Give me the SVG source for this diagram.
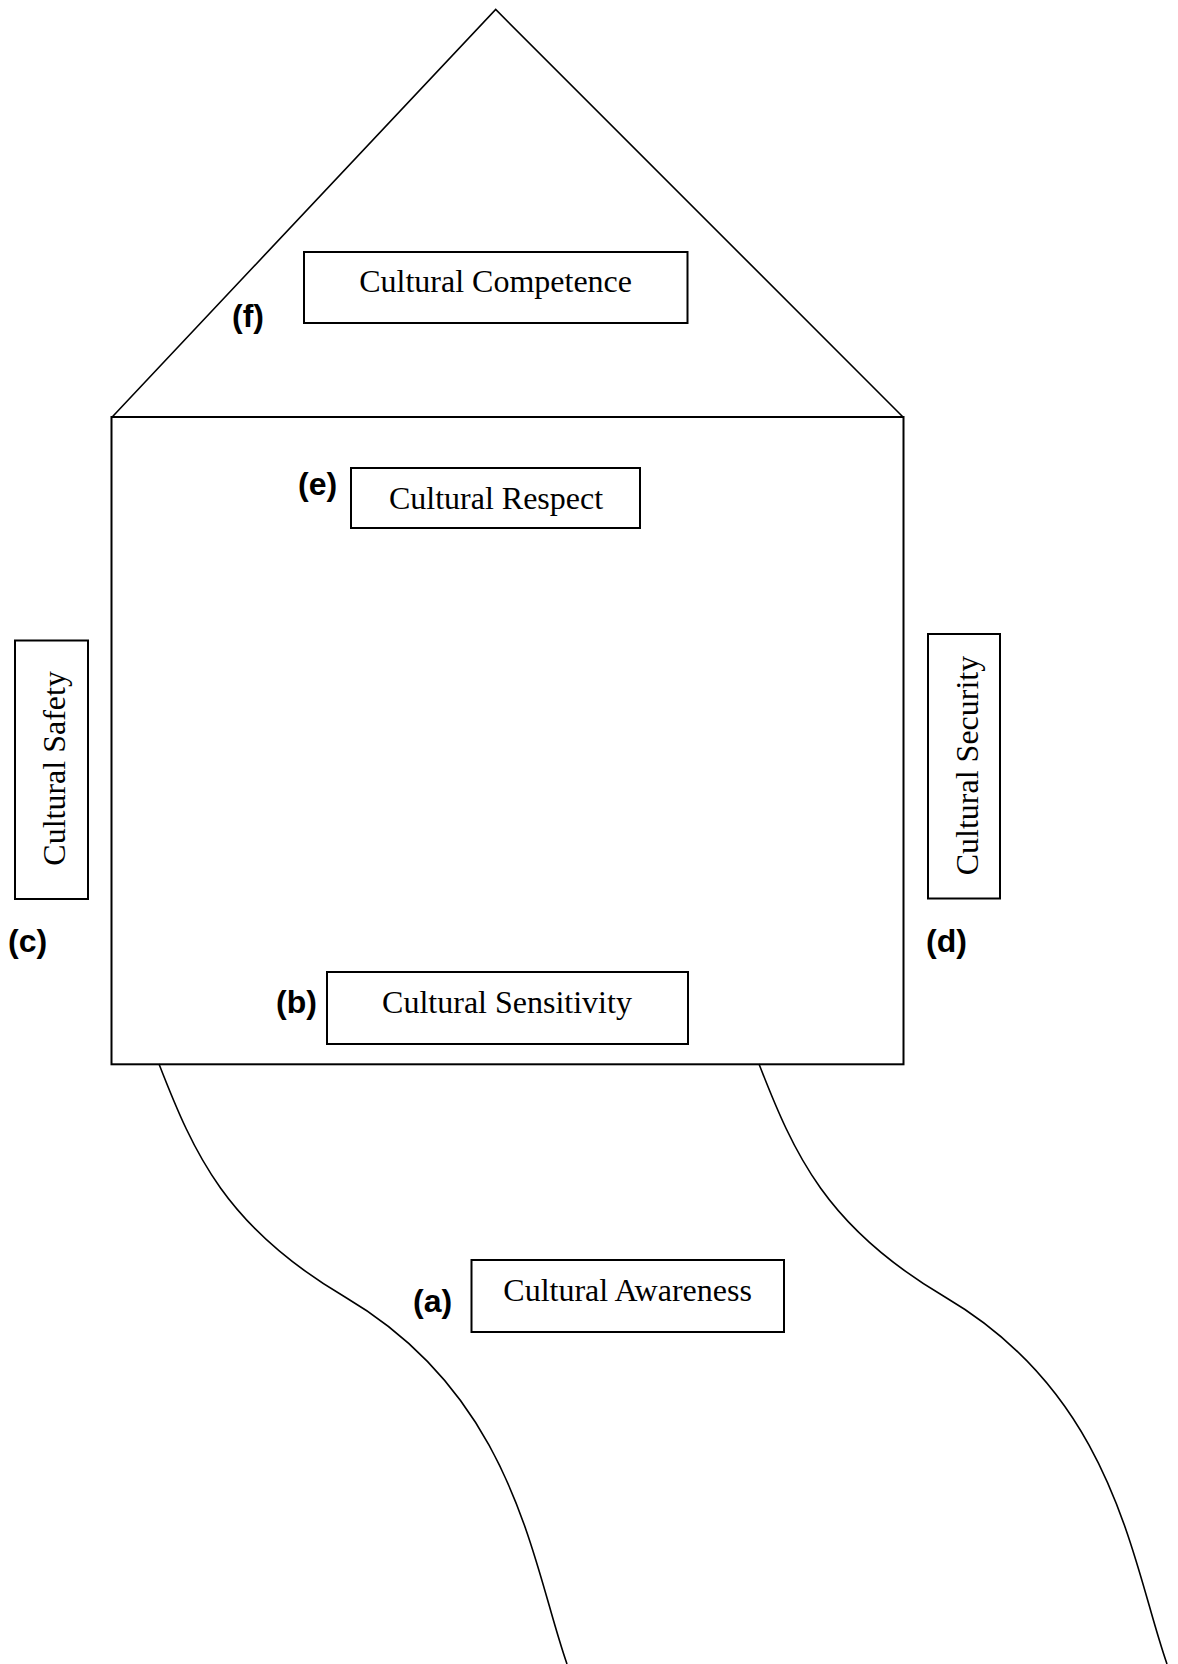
<svg xmlns="http://www.w3.org/2000/svg" width="1178" height="1664" viewBox="0 0 1178 1664">
<style>
.box{fill:#fff;stroke:#000;stroke-width:2}
.line{fill:none;stroke:#000;stroke-width:1.6}
.t{font-family:"Liberation Serif","Times New Roman",serif;font-size:32px;fill:#000;text-anchor:middle}
.lab{font-family:"Liberation Sans",Arial,sans-serif;font-size:32px;font-weight:bold;fill:#000}
</style>
<rect width="1178" height="1664" fill="#fff"/>
<g id="house">
<polyline class="line" points="111.7,417.5 495.7,9.5 903.5,417.5"/>
<rect class="box" x="111.5" y="417" width="792" height="647.3" fill="none"/>
</g>
<g id="path-lines">
<path class="line" d="M159,1064 C194,1154 226,1227 345,1297 C515,1397 532,1564 567,1664"/>
<path class="line" d="M759,1064 C794,1154 826,1227 945,1297 C1115,1397 1132,1564 1167,1664"/>
</g>
<g id="node-f">
<rect class="box" x="304" y="252" width="383.5" height="71"/>
<text class="t" x="495.6" y="292">Cultural Competence</text>
<text class="lab" x="232" y="327">(f)</text>
</g>
<g id="node-e">
<rect class="box" x="351" y="468" width="289" height="60"/>
<text class="t" x="496" y="508.5">Cultural Respect</text>
<text class="lab" x="298" y="495">(e)</text>
</g>
<g id="node-c">
<rect class="box" x="15" y="640.5" width="73" height="258.5"/>
<text class="t" transform="translate(65,768.4) rotate(-90)">Cultural Safety</text>
<text class="lab" x="8" y="951.5">(c)</text>
</g>
<g id="node-d">
<rect class="box" x="928" y="634" width="72" height="264.5"/>
<text class="t" transform="translate(978,765.5) rotate(-90)">Cultural Security</text>
<text class="lab" x="926" y="951.5">(d)</text>
</g>
<g id="node-b">
<rect class="box" x="327" y="972" width="361" height="72"/>
<text class="t" x="507" y="1012.7">Cultural Sensitivity</text>
<text class="lab" x="276" y="1012.5">(b)</text>
</g>
<g id="node-a">
<rect class="box" x="471.5" y="1260" width="312.5" height="72"/>
<text class="t" x="627.6" y="1300.6">Cultural Awareness</text>
<text class="lab" x="413" y="1312">(a)</text>
</g>
</svg>
